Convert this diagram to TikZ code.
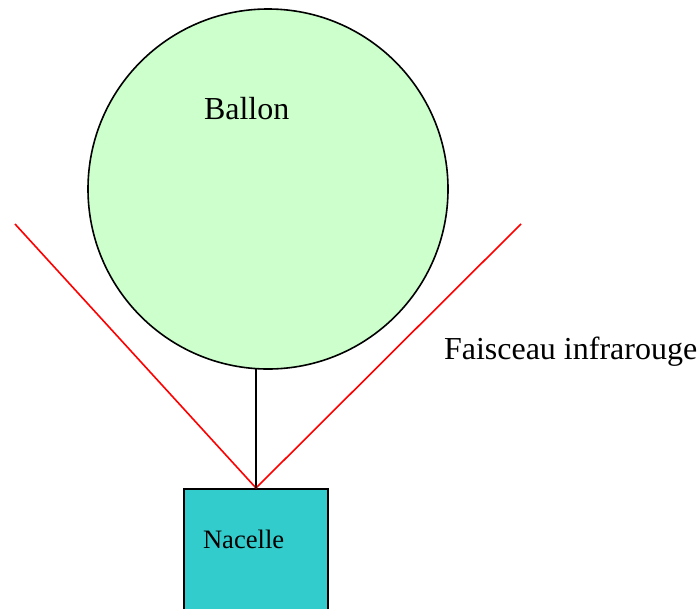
\documentclass[tikz,border=0pt]{standalone}
\usepackage{fontspec}
\setmainfont{Liberation Serif}
\definecolor{balloongreen}{HTML}{CCFFCC}
\definecolor{boxcyan}{HTML}{33CCCC}
\begin{document}
\begin{tikzpicture}[x=1pt,y=-1pt,
  outline/.style={draw=black,line width=1.6pt},
  beam/.style={draw=red,line width=1.6pt},
  lbl/.style={anchor=base west,inner sep=0pt,outer sep=0pt},
  bigtext/.style={lbl,font=\fontsize{32}{36}\selectfont},
  smalltext/.style={lbl,font=\fontsize{26.6}{30}\selectfont}]
\useasboundingbox (0,0) rectangle (700,608);
\node[outline,circle,fill=balloongreen,minimum size=360pt,inner sep=0pt] (balloon) at (268,189) {};
\node[outline,rectangle,fill=boxcyan,minimum width=144pt,minimum height=130pt,inner sep=0pt,anchor=north] (nacelle) at (256,488) {};
\coordinate (leftend) at (15,224);
\coordinate (rightend) at (521,224);
\coordinate (rope) at (256,368.6);
\draw[beam] (leftend) -- (nacelle.north);
\draw[beam] (rightend) -- (nacelle.north);
\draw[outline] (rope) -- (nacelle.north);
\node[bigtext] (ballonlbl) at (204,119) {Ballon};
\node[bigtext] (faisceaulbl) at (444,359) {Faisceau infrarouge};
\node[smalltext] (nacellelbl) at (203,548) {Nacelle};
\end{tikzpicture}
\end{document}
